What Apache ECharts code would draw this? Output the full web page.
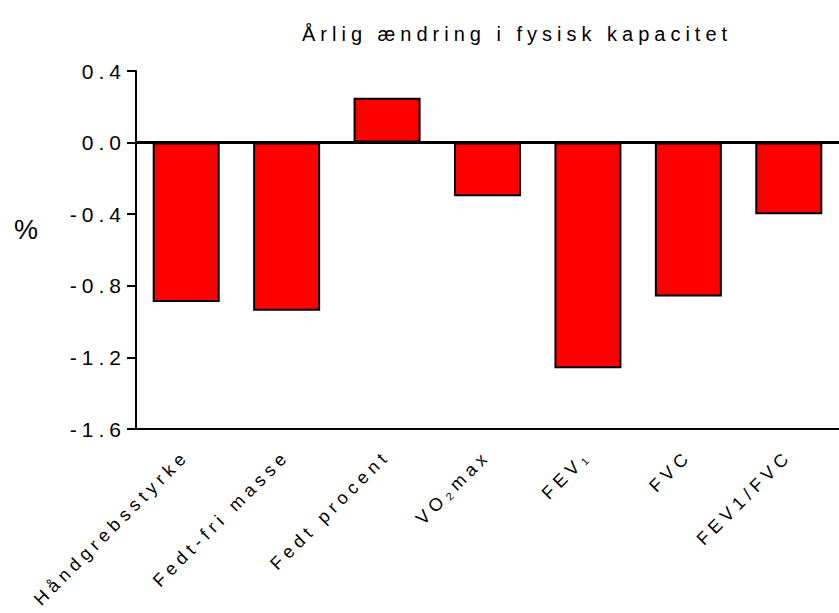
<!DOCTYPE html>
<html>
<head>
<meta charset="utf-8">
<script src="https://cdn.jsdelivr.net/npm/echarts@6/dist/echarts.min.js"></script>
<style>
  html, body { margin: 0; padding: 0; background: #fff; }
  #chart { width: 839px; height: 613px; }
  /* the original uses widely spaced letters everywhere */
  #chart text { letter-spacing: 5px; }
</style>
</head>
<body>
<div id="chart"></div>
<script>
const categories = ['Håndgrebsstyrke', 'Fedt-fri masse', 'Fedt procent', 'VO₂max', 'FEV₁', 'FVC', 'FEV1/FVC'];
const values = [-0.89, -0.94, 0.25, -0.30, -1.26, -0.86, -0.40];
const yTicks = [0.4, 0.0, -0.4, -0.8, -1.2, -1.6];

const font = '"Liberation Sans", Arial, sans-serif';
const chart = echarts.init(document.getElementById('chart'), null, {renderer: 'svg'});

chart.setOption({
  animation: false,
  title: {
    text: 'Årlig ændring i fysisk kapacitet',
    left: 297,
    top: 19,
    textStyle: {fontFamily: font, fontSize: 20, fontWeight: 'normal', color: '#000'}
  },
  graphic: [{
    type: 'text',
    left: 14,
    top: 216,
    style: {text: '%', fontFamily: font, fontSize: 27, fill: '#000'}
  }],
  grid: {left: 136, right: -7, top: 71, bottom: 184},
  xAxis: {
    type: 'category',
    data: categories,
    axisLine: {onZero: false, lineStyle: {color: '#000', width: 2}},
    axisTick: {alignWithLabel: true, length: 8, lineStyle: {color: '#000', width: 2}},
    axisLabel: {
      rotate: 45,
      margin: 24,
      interval: 0,
      fontFamily: font,
      fontSize: 18,
      color: '#000'
    }
  },
  yAxis: {
    type: 'value',
    min: -1.6,
    max: 0.4,
    interval: 0.4,
    axisLine: {show: true, lineStyle: {color: '#000', width: 2}},
    axisTick: {show: true, length: 9, lineStyle: {color: '#000', width: 2}},
    splitLine: {show: false},
    axisLabel: {
      margin: 10,
      fontFamily: font,
      fontSize: 21,
      color: '#000',
      formatter: v => {
        const t = yTicks.find(x => Math.abs(x - v) < 1e-6);
        return (t === undefined ? v : t).toFixed(1);
      }
    }
  },
  series: [{
    type: 'bar',
    data: values,
    barWidth: 67,
    itemStyle: {color: '#ff0000', borderColor: '#000', borderWidth: 2},
    markLine: {
      silent: true,
      symbol: 'none',
      label: {show: false},
      lineStyle: {color: '#000', width: 3, type: 'solid'},
      data: [{yAxis: 0}]
    }
  }]
});
</script>
</body>
</html>
